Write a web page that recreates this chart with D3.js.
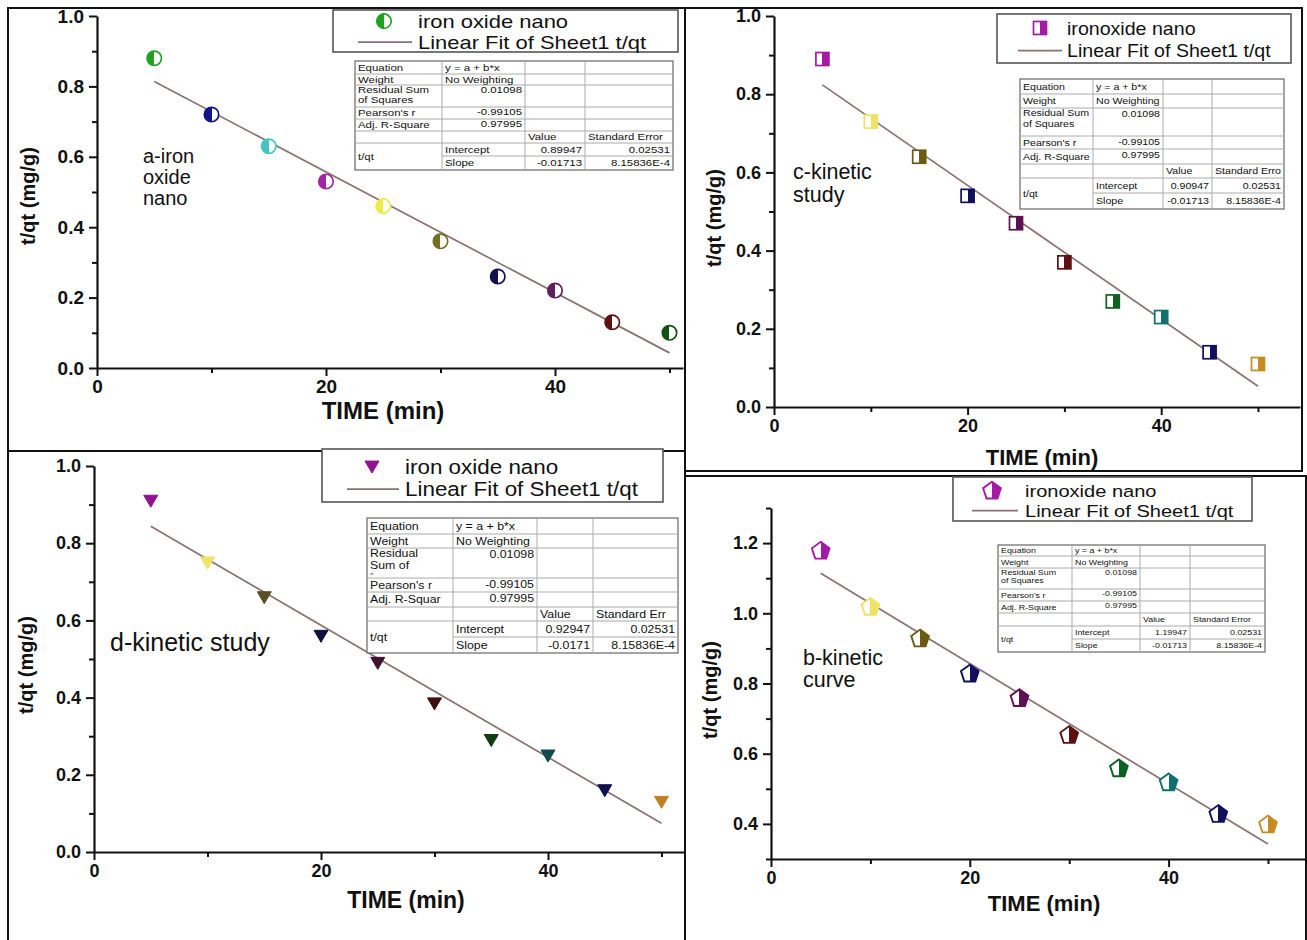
<!DOCTYPE html>
<html><head><meta charset="utf-8">
<script src="https://cdn.jsdelivr.net/npm/d3@7"></script>
<style>
html,body{margin:0;padding:0;background:#fff;}
svg{display:block;font-family:"Liberation Sans",Arial,sans-serif;}
</style></head>
<body>
<svg id="chart" width="1307" height="940"></svg>
<script>
// ---------------- DATA ----------------
const timeMin = [5, 10, 15, 20, 25, 30, 35, 40, 45, 50];
const tqtA = [0.88, 0.72, 0.63, 0.53, 0.46, 0.36, 0.26, 0.22, 0.13, 0.10];
const tqtC = [0.89, 0.73, 0.64, 0.54, 0.47, 0.37, 0.27, 0.23, 0.14, 0.11];
const tqtD = [0.91, 0.75, 0.66, 0.56, 0.49, 0.385, 0.29, 0.25, 0.16, 0.13];
const tqtB = [1.18, 1.02, 0.93, 0.83, 0.76, 0.655, 0.56, 0.52, 0.43, 0.40];

const colorsA = ["#22a022", "#14148a", "#45c4c4", "#a323a3", "#ecec48", "#727022", "#12124e", "#5e1f5e", "#5e1212", "#125212"];
const colorsC = ["#a51aa5", "#f0e266", "#6a5a12", "#10105e", "#5e1050", "#5e1010", "#106022", "#107070", "#10105e", "#c88a22"];
const colorsD = ["#921092", "#f0e266", "#5a5022", "#101040", "#401030", "#401010", "#103a10", "#104a4a", "#101050", "#c08022"];
const colorsB = ["#a51aa5", "#f0e266", "#6a5a12", "#10105e", "#5e1050", "#5e1010", "#106022", "#107070", "#10105e", "#c88a22"];

const fitIntercept = {A: 0.89947, C: 0.90947, D: 0.92947, B: 1.19947};
const fitSlope = {A: -0.01713, C: -0.01713, D: -0.0171, B: -0.01713};

const xTicksMajor = [0, 20, 40];
const xTicksMinor = [10, 30, 50];
const yTicksMajor01 = [0, 0.2, 0.4, 0.6, 0.8, 1.0];
const yTicksMinor01 = [0.1, 0.3, 0.5, 0.7, 0.9];
const yTicksMajorB = [0.4, 0.6, 0.8, 1.0, 1.2];
const yTicksMinorB = [0.3, 0.5, 0.7, 0.9, 1.1, 1.3];

const xTitle = "TIME (min)";
const yTitle = "t/qt (mg/g)";
const legendSeries = {A: "iron oxide nano", C: "ironoxide nano", D: "iron oxide nano", B: "ironoxide nano"};
const legendFit = "Linear Fit of Sheet1 t/qt";
const panelNotes = {A: ["a-iron", "oxide", "nano"], C: ["c-kinetic", "study"], D: ["d-kinetic study"], B: ["b-kinetic", "curve"]};

const tableA = [["Equation", "y = a + b*x"], ["Weight", "No Weighting"], ["Residual Sum|of Squares", "0.01098"], ["Pearson's r", "-0.99105"], ["Adj. R-Square", "0.97995"], ["", "", "Value", "Standard Error"], ["t/qt", "Intercept", "0.89947", "0.02531"], ["", "Slope", "-0.01713", "8.15836E-4"]];
const tableC = [["Equation", "y = a + b*x"], ["Weight", "No Weighting"], ["Residual Sum|of Squares", "0.01098"], ["Pearson's r", "-0.99105"], ["Adj. R-Square", "0.97995"], ["", "", "Value", "Standard Erro"], ["t/qt", "Intercept", "0.90947", "0.02531"], ["", "Slope", "-0.01713", "8.15836E-4"]];
const tableD = [["Equation", "y = a + b*x"], ["Weight", "No Weighting"], ["Residual|Sum of|^", "0.01098"], ["Pearson's r", "-0.99105"], ["Adj. R-Squar", "0.97995"], ["", "", "Value", "Standard Err"], ["t/qt", "Intercept", "0.92947", "0.02531"], ["", "Slope", "-0.0171", "8.15836E-4"]];
const tableB = [["Equation", "y = a + b*x"], ["Weight", "No Weighting"], ["Residual Sum|of Squares", "0.01098"], ["Pearson's r", "-0.99105"], ["Adj. R-Square", "0.97995"], ["", "", "Value", "Standard Error"], ["t/qt", "Intercept", "1.19947", "0.02531"], ["", "Slope", "-0.01713", "8.15836E-4"]];

// ---------------- LAYOUT ----------------
const FONT = '"Liberation Sans",Arial,sans-serif';
const svg = d3.select("#chart");
const defs = svg.append("defs");
const fitColor = "#8a7272";

const frames = [
  [8, 8, 685, 451], [685, 8, 1302, 471], [8, 451, 685, 945], [685, 476, 1306, 945]
];
frames.forEach(f => svg.append("rect").attr("x", f[0]).attr("y", f[1]).attr("width", f[2]-f[0]).attr("height", f[3]-f[1])
  .attr("fill", "none").attr("stroke", "#111").attr("stroke-width", 2));

const panels = [
  {id: "A", vals: tqtA, colors: colorsA, marker: "circleL",
   x0: 97, x50: 669.5, xEnd: 683, yBot: 368, yTop: 16, yDom: [0, 1], yMaj: yTicksMajor01, yMin: yTicksMinor01,
   tickFont: 19, xTitlePos: [383, 419], yTitlePos: [30, 196], titleFont: 24, yTitleFont: 20,
   legend: {x: 333, y: 10, w: 345, h: 42, mx: 384, lx0: 358, lx1: 412, tx: 418, b1: 28, b2: 48.5, font: 18, sx: 1.22},
   table: {x: 355, y: 61, cols: [87, 83, 60, 88], rows: [13, 11, 22, 12, 12, 12, 13, 14], font: 8.8, sx: 1.3, data: tableA},
   note: {x: 143, y: 163, dy: 21, font: 20}},
  {id: "C", vals: tqtC, colors: colorsC, marker: "squareR",
   x0: 774, x50: 1258, xEnd: 1300, yBot: 407, yTop: 16, yDom: [0, 1], yMaj: yTicksMajor01, yMin: yTicksMinor01,
   tickFont: 18, xTitlePos: [1042, 465], yTitlePos: [716, 218], titleFont: 22, yTitleFont: 20,
   legend: {x: 997, y: 14, w: 294, h: 49, mx: 1040, lx0: 1018, lx1: 1062, tx: 1067, b1: 35, b2: 57, font: 18.5, sx: 1.06},
   table: {x: 1020, y: 79, cols: [73, 70, 49, 72], rows: [15, 14, 28, 13, 15, 14, 15, 16], font: 9, sx: 1.18, data: tableC},
   note: {x: 793, y: 179, dy: 23, font: 21.5}},
  {id: "D", vals: tqtD, colors: colorsD, marker: "triDown",
   x0: 94, x50: 661.5, xEnd: 684, yBot: 852, yTop: 466, yDom: [0, 1], yMaj: yTicksMajor01, yMin: yTicksMinor01,
   tickFont: 18, xTitlePos: [406, 908], yTitlePos: [28, 665], titleFont: 23, yTitleFont: 20,
   legend: {x: 322, y: 449, w: 341, h: 53, mx: 372, lx0: 347, lx1: 399, tx: 405, b1: 474, b2: 496, font: 19.5, sx: 1.15},
   table: {x: 367, y: 518, cols: [86, 84, 56, 85], rows: [16, 14, 30, 14, 15, 14, 16, 16], font: 10.3, sx: 1.2, data: tableD},
   note: {x: 110, y: 651, dy: 0, font: 25}},
  {id: "B", vals: tqtB, colors: colorsB, marker: "pentR",
   x0: 771, x50: 1268, xEnd: 1305, yBot: 859, yTop: 508, yDom: [0.3, 1.3], yMaj: yTicksMajorB, yMin: yTicksMinorB,
   tickFont: 18, xTitlePos: [1044, 911], yTitlePos: [712, 690], titleFont: 22, yTitleFont: 20,
   legend: {x: 953, y: 477, w: 299, h: 44, mx: 992, lx0: 972, lx1: 1018, tx: 1025, b1: 496.5, b2: 516.5, font: 17, sx: 1.18},
   table: {x: 998, y: 545, cols: [74, 68, 50, 75], rows: [11, 12, 21, 12, 12, 13, 13, 13], font: 7.5, sx: 1.18, data: tableB},
   note: {x: 803, y: 665, dy: 22, font: 21.5}}
];

let gradCount = 0;
function halfFill(color, side) {
  const id = "hf" + (gradCount++);
  const g = defs.append("linearGradient").attr("id", id).attr("x1", 0).attr("x2", 1).attr("y1", 0).attr("y2", 0);
  const left = side === "L" ? color : "#fff", right = side === "L" ? "#fff" : color;
  g.append("stop").attr("offset", 0).attr("stop-color", left);
  g.append("stop").attr("offset", 0.5).attr("stop-color", left);
  g.append("stop").attr("offset", 0.5).attr("stop-color", right);
  g.append("stop").attr("offset", 1).attr("stop-color", right);
  return "url(#" + id + ")";
}

function pentagonPath(r) {
  const pts = d3.range(5).map(i => {
    const a = -Math.PI / 2 + i * 2 * Math.PI / 5;
    return [r * Math.cos(a), r * Math.sin(a)];
  });
  return "M" + pts.map(p => p[0].toFixed(2) + "," + p[1].toFixed(2)).join("L") + "Z";
}

function drawMarker(g, type, color, cx, cy) {
  if (type === "circleL") {
    g.append("circle").attr("cx", cx).attr("cy", cy).attr("r", 7.2)
      .attr("fill", halfFill(color, "L")).attr("stroke", color).attr("stroke-width", 1.7);
  } else if (type === "squareR") {
    g.append("rect").attr("x", cx - 6.5).attr("y", cy - 6.5).attr("width", 13).attr("height", 13)
      .attr("fill", halfFill(color, "R")).attr("stroke", color).attr("stroke-width", 1.7);
  } else if (type === "triDown") {
    g.append("path").attr("transform", `translate(${cx},${cy})`).attr("d", "M-7,-5.5L7,-5.5L0,6.5Z")
      .attr("fill", color).attr("stroke", color).attr("stroke-width", 1);
  } else if (type === "pentR") {
    g.append("path").attr("transform", `translate(${cx},${cy + 1})`).attr("d", pentagonPath(9.3))
      .attr("fill", halfFill(color, "R")).attr("stroke", color).attr("stroke-width", 1.9);
  }
}

panels.forEach(p => {
  const g = svg.append("g");
  const xMax = 50 * (p.xEnd - p.x0) / (p.x50 - p.x0);
  const x = d3.scaleLinear().domain([0, xMax]).range([p.x0, p.xEnd]);
  const y = d3.scaleLinear().domain(p.yDom).range([p.yBot, p.yTop]);

  // axes
  g.append("g").attr("transform", `translate(${p.x0},0)`)
    .call(d3.axisLeft(y).tickValues(p.yMaj).tickSize(8).tickSizeOuter(0).tickPadding(5).tickFormat(d3.format(".1f")));
  g.append("g").attr("transform", `translate(${p.x0},0)`)
    .call(d3.axisLeft(y).tickValues(p.yMin).tickSize(5).tickFormat("")).select(".domain").remove();
  g.append("g").attr("transform", `translate(0,${p.yBot})`)
    .call(d3.axisBottom(x).tickValues(xTicksMajor).tickSize(8).tickSizeOuter(0).tickPadding(4).tickFormat(d3.format("d")));
  g.append("g").attr("transform", `translate(0,${p.yBot})`)
    .call(d3.axisBottom(x).tickValues(xTicksMinor).tickSize(5).tickFormat("")).select(".domain").remove();
  g.selectAll(".domain").attr("stroke", "#111").attr("stroke-width", 2.2);
  g.selectAll(".tick line").attr("stroke", "#111").attr("stroke-width", 2);
  g.selectAll(".tick text").attr("font-family", FONT).attr("font-weight", "bold").attr("font-size", p.tickFont).attr("fill", "#111");

  // titles
  g.append("text").attr("x", p.xTitlePos[0]).attr("y", p.xTitlePos[1]).attr("text-anchor", "middle")
    .attr("font-size", p.titleFont).attr("font-weight", "bold").attr("fill", "#111").text(xTitle);
  g.append("text").attr("transform", `translate(${p.yTitlePos[0]},${p.yTitlePos[1]}) rotate(-90)`)
    .attr("text-anchor", "middle").attr("dominant-baseline", "middle")
    .attr("font-size", p.yTitleFont).attr("font-weight", "bold").attr("fill", "#111").text(yTitle);

  // fit line
  const fitX = [timeMin[0], timeMin[timeMin.length - 1]];
  g.append("line")
    .attr("x1", x(fitX[0])).attr("y1", y(fitIntercept[p.id] + fitSlope[p.id] * fitX[0]))
    .attr("x2", x(fitX[1])).attr("y2", y(fitIntercept[p.id] + fitSlope[p.id] * fitX[1]))
    .attr("stroke", fitColor).attr("stroke-width", 1.7);

  // points
  timeMin.forEach((t, i) => drawMarker(g, p.marker, p.colors[i], x(t), y(p.vals[i])));

  // note
  panelNotes[p.id].forEach((s, i) => g.append("text").attr("x", p.note.x).attr("y", p.note.y + i * p.note.dy)
    .attr("font-size", p.note.font).attr("fill", "#111").text(s));

  // legend
  const L = p.legend;
  g.append("rect").attr("x", L.x).attr("y", L.y).attr("width", L.w).attr("height", L.h)
    .attr("fill", "#fff").attr("stroke", "#555").attr("stroke-width", 1.6);
  drawMarker(g, p.marker, p.colors[0], L.mx, (L.b1 - L.font * 0.38));
  g.append("line").attr("x1", L.lx0).attr("x2", L.lx1).attr("y1", L.b2 - L.font * 0.35).attr("y2", L.b2 - L.font * 0.35)
    .attr("stroke", fitColor).attr("stroke-width", 1.8);
  [legendSeries[p.id], legendFit].forEach((s, k) => g.append("text")
    .attr("transform", `translate(${L.tx},${k ? L.b2 : L.b1}) scale(${L.sx},1)`)
    .attr("font-size", L.font).attr("fill", "#111").text(s));

  // table
  const T = p.table;
  const colX = [T.x]; T.cols.forEach((w, i) => colX.push(colX[i] + w));
  const rowY = [T.y]; T.rows.forEach((h, i) => rowY.push(rowY[i] + h));
  const tg = g.append("g");
  tg.append("rect").attr("x", T.x).attr("y", T.y).attr("width", colX[4] - T.x).attr("height", rowY[8] - T.y)
    .attr("fill", "#fff").attr("stroke", "#666").attr("stroke-width", 1.2);
  for (let r = 1; r < 8; r++) {
    const xs = r === 7 ? colX[1] : T.x;
    tg.append("line").attr("x1", xs).attr("x2", colX[4]).attr("y1", rowY[r]).attr("y2", rowY[r])
      .attr("stroke", "#aaa").attr("stroke-width", 1);
  }
  for (let c = 1; c < 4; c++) {
    tg.append("line").attr("x1", colX[c]).attr("x2", colX[c]).attr("y1", T.y).attr("y2", rowY[8])
      .attr("stroke", "#aaa").attr("stroke-width", 1);
  }
  const fs = T.font;
  T.data.forEach((row, r) => {
    row.forEach((cell, c) => {
      if (!cell) return;
      const lines = cell.split("|");
      let yTop = rowY[r], yBot = rowY[r + 1];
      if (r === 6 && c === 0) yBot = rowY[8];
      const rightAlign = (c === 1 && r >= 2 && r <= 4) || (c >= 2 && r >= 6);
      const tx = rightAlign ? colX[c + 1] - 3 : colX[c] + 3;
      let startY;
      if (lines.length > 1) startY = yTop + fs * 0.92;
      else if (rightAlign && c === 1) startY = yTop + fs * 0.95;
      else startY = (yTop + yBot) / 2 + fs * 0.36;
      let yy = startY;
      lines.forEach((ln, k) => {
        const small = ln === "^";
        const f = small ? fs * 0.6 : fs;
        if (k > 0) yy += small ? fs * 0.78 : fs * 1.14;
        tg.append("text")
          .attr("transform", `translate(${tx},${yy}) scale(${T.sx},1)`)
          .attr("text-anchor", rightAlign ? "end" : "start")
          .attr("font-size", f).attr("fill", "#111").text(ln);
      });
    });
  });
});
</script>
</body></html>
